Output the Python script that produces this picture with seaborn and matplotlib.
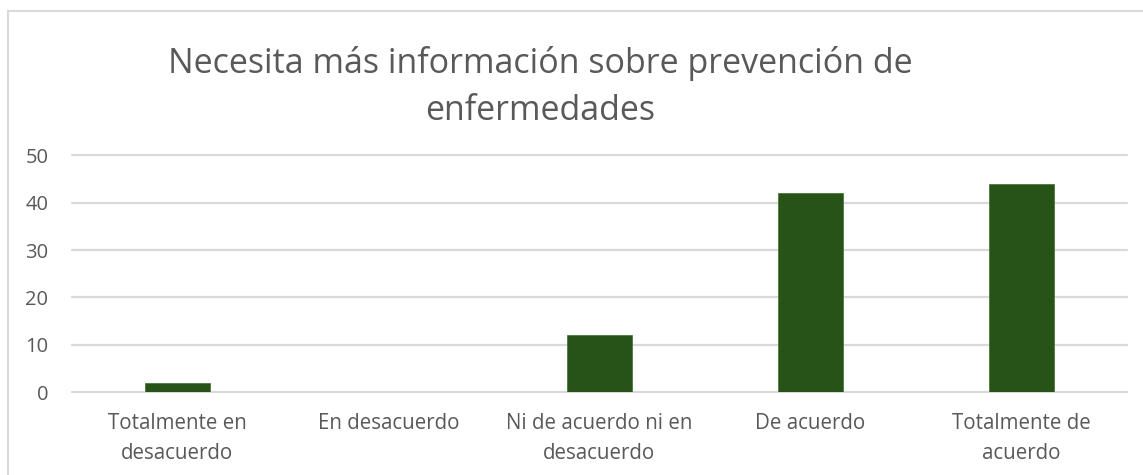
import numpy as np
import pandas as pd
import matplotlib
matplotlib.use("Agg")
import matplotlib.pyplot as plt
import seaborn as sns

# =========================
# DATA
# =========================

categorias = [
    "Totalmente en\ndesacuerdo",
    "En desacuerdo",
    "Ni de acuerdo ni en\ndesacuerdo",
    "De acuerdo",
    "Totalmente de\nacuerdo",
]
valores = [2, 0, 12, 42, 44]
y_ticks = [0, 10, 20, 30, 40, 50]
titulo = "Necesita más información sobre prevención de\nenfermedades"

df = pd.DataFrame({"categoria": categorias, "valor": valores})

# =========================
# STYLE
# =========================

sns.set_theme(style="white")
plt.rcParams["font.family"] = ["Open Sans", "DejaVu Sans"]

gris_texto = "#595959"
gris_linea = "#d9d9d9"
verde = "#275317"

W, H = 1143, 475
fig = plt.figure(figsize=(W / 100, H / 100), dpi=100)
fig.patch.set_facecolor("white")

# chart border (left and top visible only)
fig.add_artist(plt.Line2D([7.5 / W, 7.5 / W], [0, 1 - 11 / H],
                          transform=fig.transFigure, color=gris_linea, lw=1.5))
fig.add_artist(plt.Line2D([7.5 / W, 1], [1 - 11 / H, 1 - 11 / H],
                          transform=fig.transFigure, color=gris_linea, lw=1.5))

# =========================
# PLOT
# =========================

left, right = 72 / W, 1127 / W
bottom, top = 1 - 392 / H, 1 - 155.5 / H
ax = fig.add_axes([left, bottom, right - left, top - bottom])

sns.barplot(data=df, x="categoria", y="valor", color=verde, width=0.31,
            edgecolor="#4a7a3a", linewidth=0.6, saturation=1, ax=ax, zorder=3)

ax.set_ylim(0, 50)
ax.set_xlim(-0.5, len(categorias) - 0.5)
ax.set_yticks(y_ticks)
for y in y_ticks:
    ax.axhline(y, color=gris_linea, linewidth=1.6, zorder=1, clip_on=False)
for s in ax.spines.values():
    s.set_visible(False)

ax.set_xlabel("")
ax.set_ylabel("")
ax.tick_params(axis="y", length=0, pad=17, labelsize=14.5, labelcolor=gris_texto)
ax.tick_params(axis="x", length=0, pad=15, labelsize=14.8, labelcolor=gris_texto)
for t in ax.get_xticklabels():
    t.set_linespacing(1.55)

fig.text(540 / W, 1 - 87 / H, titulo, ha="center", va="center",
         fontsize=24.5, color=gris_texto, linespacing=1.5)

fig.savefig("out.png", dpi=100)
